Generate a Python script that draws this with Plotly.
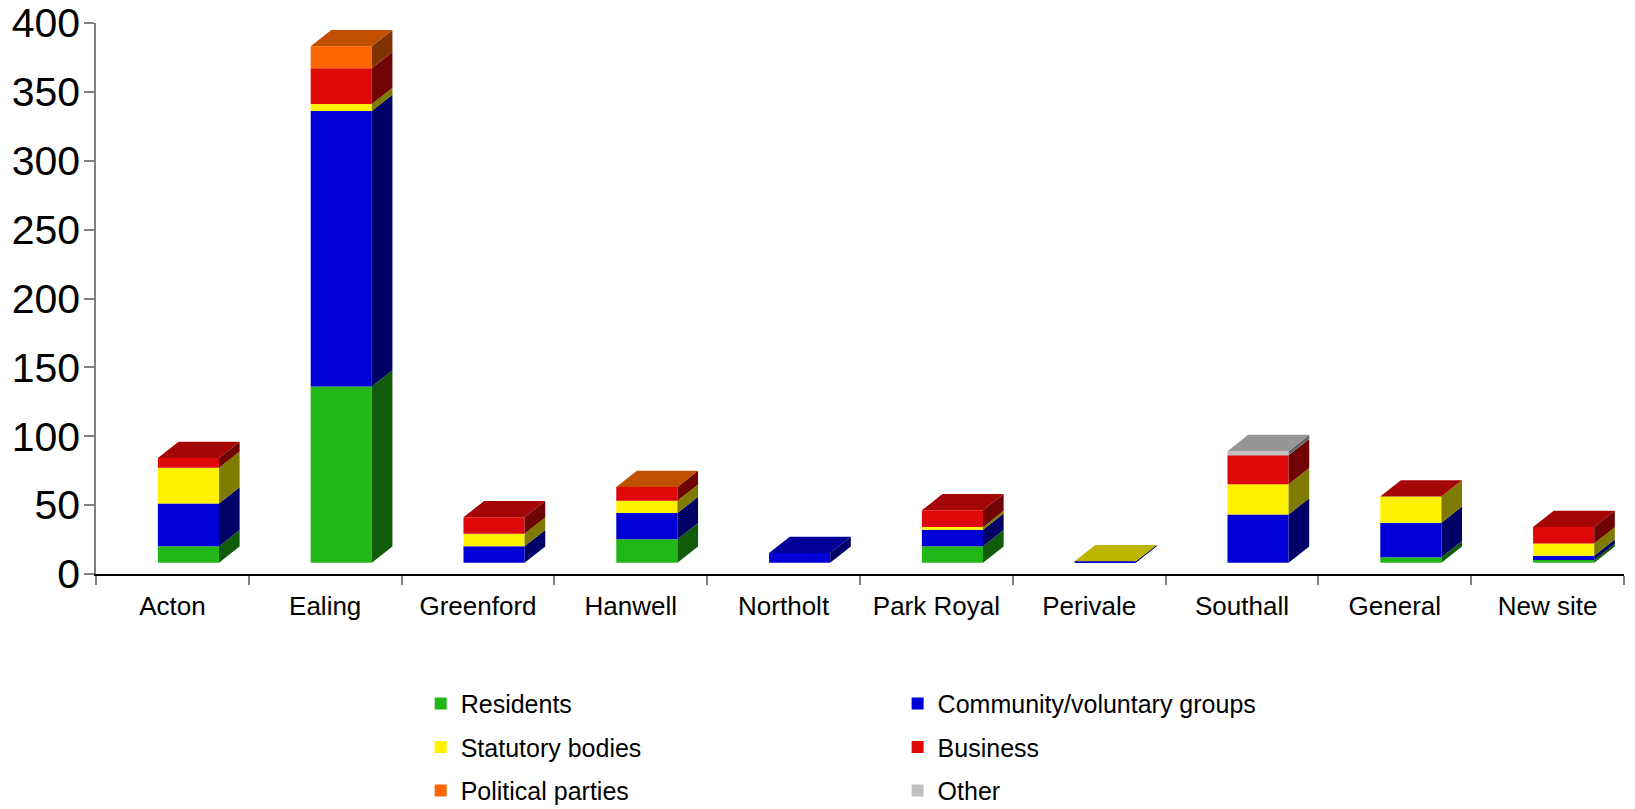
import plotly.graph_objects as go

# ---------------- data ----------------
categories = ["Acton", "Ealing", "Greenford", "Hanwell", "Northolt",
              "Park Royal", "Perivale", "Southall", "General", "New site"]

residents = [12, 128, None, 17, None, 12, None, None, 4, 2]
community = [31, 200, 12, 19, 7, 12, 1, 35, 25, 3]
statutory = [26, 5, 9, 9, None, 2, 0, 22, 19, 9]
business = [7, 26, 12, 10, None, 12, None, 21, 0, 12]
political = [None, 16, None, 0, None, None, None, None, None, None]
other = [None, None, None, None, None, None, None, 3, None, None]

series_names = ["Residents", "Community/voluntary groups", "Statutory bodies",
                "Business", "Political parties", "Other"]
series_values = [residents, community, statutory, business, political, other]

# front / top / side colours (Excel-like 3D shading)
front_colors = ["#21B817", "#0000D6", "#FFF200", "#DE0808", "#FF6600", "#C0C0C0"]
top_colors = ["#198A11", "#000098", "#BDB500", "#A50606", "#C04F00", "#969696"]
side_colors = ["#115C0B", "#000066", "#7F7A00", "#700303", "#803300", "#666666"]
legend_ids = ["legend", "legend2", "legend", "legend2", "legend", "legend2"]

# ---------------- 3D geometry (style constants) ----------------
FRONT_W = 0.40     # width of the front face (category units)
SHIFT = 0.105      # horizontal shift of front face from category centre
DEPTH_X = 0.135    # horizontal depth offset (category units)
DEPTH_Y = 11.8     # vertical depth offset (value units)
BASE = 8.2         # floor offset of the front face (value units)

n = len(categories)
idx = list(range(n))

cum = [BASE] * n
top_series = [None] * n
bases_all = []
for s_i, vals in enumerate(series_values):
    bases = []
    for j in range(n):
        v = vals[j]
        if v is None:
            bases.append(None)
        else:
            bases.append(cum[j])
            cum[j] += v
            top_series[j] = s_i
    bases_all.append(bases)

fig = go.Figure()

# front faces as bars
for s_i, vals in enumerate(series_values):
    fig.add_trace(go.Bar(
        x=idx,
        y=[v if v is not None else 0 for v in vals],
        base=[b if b is not None else BASE for b in bases_all[s_i]],
        width=FRONT_W,
        offset=SHIFT - FRONT_W / 2,
        marker=dict(color=front_colors[s_i], line=dict(width=0)),
        name=series_names[s_i],
        legend=legend_ids[s_i],
        legendgroup=series_names[s_i],
        hovertemplate="%{customdata}<br>" + series_names[s_i] + ": %{y}<extra></extra>",
        customdata=categories,
    ))

# side and top faces as filled polygons
for s_i, vals in enumerate(series_values):
    xs, ys = [], []
    for j in range(n):
        v = vals[j]
        if v is None or v == 0:
            continue
        x1 = j + SHIFT + FRONT_W / 2
        y0 = bases_all[s_i][j]
        y1 = y0 + v
        xs += [x1, x1 + DEPTH_X, x1 + DEPTH_X, x1, x1, None]
        ys += [y0, y0 + DEPTH_Y, y1 + DEPTH_Y, y1, y0, None]
    if xs:
        fig.add_trace(go.Scatter(
            x=xs, y=ys, mode="lines", fill="toself",
            fillcolor=side_colors[s_i], line=dict(width=0, color=side_colors[s_i]),
            showlegend=False, hoverinfo="skip",
        ))
    xs, ys = [], []
    for j in range(n):
        if top_series[j] != s_i:
            continue
        x0 = j + SHIFT - FRONT_W / 2
        x1 = x0 + FRONT_W
        yt = cum[j]
        xs += [x0, x1, x1 + DEPTH_X, x0 + DEPTH_X, x0, None]
        ys += [yt, yt, yt + DEPTH_Y, yt + DEPTH_Y, yt, None]
    if xs:
        fig.add_trace(go.Scatter(
            x=xs, y=ys, mode="lines", fill="toself",
            fillcolor=top_colors[s_i], line=dict(width=0, color=top_colors[s_i]),
            showlegend=False, hoverinfo="skip",
        ))

legend_font = dict(family="Liberation Sans, Arial, sans-serif",
                   size=25, color="#000000")

fig.update_layout(
    width=1635, height=809,
    margin=dict(l=96, r=11, t=23, b=235, autoexpand=False),
    paper_bgcolor="white", plot_bgcolor="white",
    barmode="overlay",
    font=dict(family="Liberation Sans, Arial, sans-serif", color="#000000"),
    showlegend=True,
    legend=dict(xref="container", yref="container", x=0.2573, y=0.1586,
                xanchor="left", yanchor="top", orientation="v",
                font=legend_font, tracegroupgap=8, bgcolor="rgba(0,0,0,0)"),
    legend2=dict(xref="container", yref="container", x=0.549, y=0.1586,
                 xanchor="left", yanchor="top", orientation="v",
                 font=legend_font, tracegroupgap=8, bgcolor="rgba(0,0,0,0)"),
    xaxis=dict(
        range=[-0.5, n - 0.5],
        tickmode="array", tickvals=idx, ticktext=categories, tickangle=0,
        ticks="outside", ticklen=0, tickcolor="rgba(0,0,0,0)",
        ticklabelstandoff=8,
        tickfont=dict(size=26, family="Liberation Sans, Arial, sans-serif"),
        showline=True, linecolor="#000000", linewidth=1.5,
        showgrid=False, zeroline=False, automargin=False,
        minor=dict(tick0=-0.5, dtick=1, ticks="outside", ticklen=9,
                   tickcolor="#808080", tickwidth=1.5, showgrid=False),
        fixedrange=True,
    ),
    yaxis=dict(
        range=[0, 400], tickmode="linear", tick0=0, dtick=50,
        ticks="outside", ticklen=10, tickcolor="#808080", tickwidth=1.5,
        ticklabelstandoff=-4,
        tickfont=dict(size=41, family="Liberation Sans, Arial, sans-serif"),
        showline=True, linecolor="#808080", linewidth=1.5,
        showgrid=False, zeroline=False, automargin=False,
        fixedrange=True,
    ),
)

fig.write_html("out.html")
